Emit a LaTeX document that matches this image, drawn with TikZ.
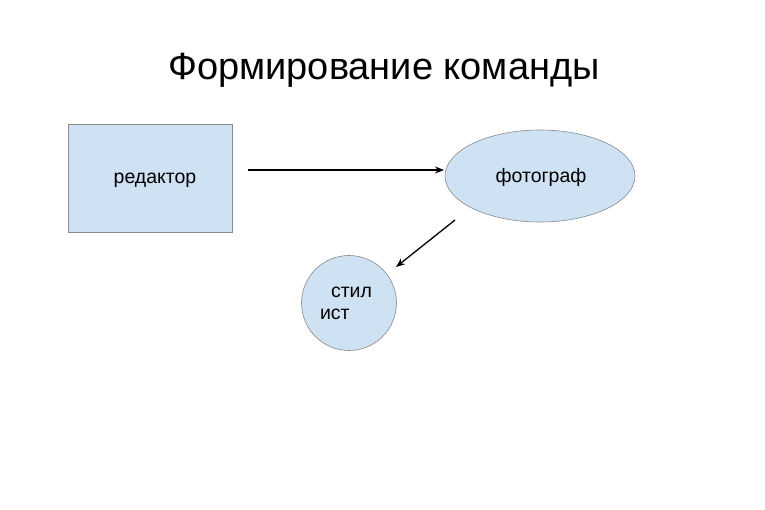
\documentclass[tikz,border=0pt]{standalone}
\usepackage{fontspec}
\setmainfont{Liberation Sans}
\usetikzlibrary{shapes.geometric,arrows.meta}
\definecolor{boxfill}{HTML}{CFE2F3}
\definecolor{boxline}{HTML}{8A8A8A}
\tikzset{
  shapebox/.style={fill=boxfill,draw=boxline,line width=0.6pt},
  lbl/.style={font=\fontsize{19.5}{22}\selectfont,text=black},
  conn/.style={draw=black,line width=1.3pt,-{Stealth[length=9pt,width=7pt]}}
}
\begin{document}
\begin{tikzpicture}[x=1pt,y=-1pt]
\useasboundingbox (0,0) rectangle (765,510);
\node[font=\fontsize{38}{42}\selectfont] (title) at (384,70) {Формирование команды};
\node[shapebox,rectangle,minimum width=164pt,minimum height=108pt,anchor=north west] (ed) at (68,124) {};
\node[lbl] (edl) at (155,180) {редактор};
\node[shapebox,ellipse,minimum width=190pt,minimum height=92pt] (ph) at (540,176) {};
\node[lbl] (phl) at (541,177) {фотограф};
\node[shapebox,circle,minimum size=95pt] (st) at (349,303) {};
\node[lbl,align=left] (stl) at (346,303) {\hspace*{11pt}стил\\ист};
\coordinate (a1s) at (248,170);
\coordinate (a1e) at (444,170);
\coordinate (a2s) at (455,220);
\coordinate (a2e) at (396,267);
\draw[conn] (a1s) -- (a1e);
\draw[conn] (a2s) -- (a2e);
\end{tikzpicture}
\end{document}
